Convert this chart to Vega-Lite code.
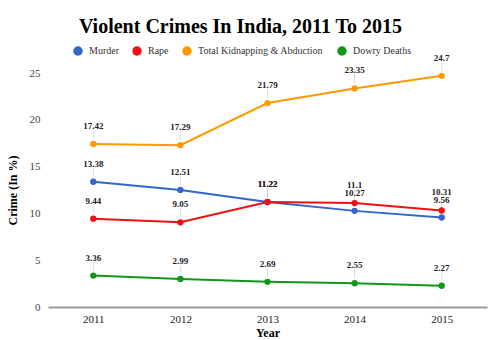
{
  "$schema": "https://vega.github.io/schema/vega-lite/v6.json",
  "autosize": "none",
  "width": 439,
  "height": 234,
  "padding": {"left": 48, "top": 73, "right": 13, "bottom": 33},
  "background": "white",
  "config": {
    "view": {"stroke": null},
    "font": "Liberation Serif"
  },
  "title": {
    "text": "Violent Crimes In India,  2011 To 2015",
    "font": "Liberation Serif",
    "fontSize": 20,
    "fontWeight": "bold",
    "color": "#000000",
    "anchor": "middle",
    "dx": -27,
    "offset": 9
  },
  "data": {
    "values": [
      {"year": "2011", "crime": "Murder", "value": 13.38},
      {"year": "2012", "crime": "Murder", "value": 12.51},
      {"year": "2013", "crime": "Murder", "value": 11.22},
      {"year": "2014", "crime": "Murder", "value": 10.27},
      {"year": "2015", "crime": "Murder", "value": 9.56},
      {"year": "2011", "crime": "Rape", "value": 9.44},
      {"year": "2012", "crime": "Rape", "value": 9.05},
      {"year": "2013", "crime": "Rape", "value": 11.22},
      {"year": "2014", "crime": "Rape", "value": 11.1},
      {"year": "2015", "crime": "Rape", "value": 10.31},
      {"year": "2011", "crime": "Total Kidnapping & Abduction", "value": 17.42},
      {"year": "2012", "crime": "Total Kidnapping & Abduction", "value": 17.29},
      {"year": "2013", "crime": "Total Kidnapping & Abduction", "value": 21.79},
      {"year": "2014", "crime": "Total Kidnapping & Abduction", "value": 23.35},
      {"year": "2015", "crime": "Total Kidnapping & Abduction", "value": 24.7},
      {"year": "2011", "crime": "Dowry Deaths", "value": 3.36},
      {"year": "2012", "crime": "Dowry Deaths", "value": 2.99},
      {"year": "2013", "crime": "Dowry Deaths", "value": 2.69},
      {"year": "2014", "crime": "Dowry Deaths", "value": 2.55},
      {"year": "2015", "crime": "Dowry Deaths", "value": 2.27}
    ]
  },
  "encoding": {
    "x": {
      "field": "year",
      "type": "ordinal",
      "scale": {"type": "point", "padding": 0.52},
      "axis": {
        "title": "Year",
        "titleFont": "Liberation Serif",
        "titleFontSize": 12,
        "titleFontWeight": "bold",
        "titleColor": "#000000",
        "titlePadding": 3,
        "labelAngle": 0,
        "labelFont": "Liberation Serif",
        "labelFontSize": 11,
        "labelColor": "#222222",
        "labelPadding": 6,
        "ticks": false,
        "domainColor": "#999999",
        "domainWidth": 2,
        "grid": false
      }
    },
    "y": {
      "field": "value",
      "type": "quantitative",
      "scale": {"domain": [0, 25]},
      "axis": {
        "title": "Crime (In %)",
        "titleFont": "Liberation Serif",
        "titleFontSize": 12,
        "titleFontWeight": "bold",
        "titleColor": "#000000",
        "titlePadding": 10,
        "values": [0, 5, 10, 15, 20, 25],
        "labelFont": "Liberation Serif",
        "labelFontSize": 11,
        "labelColor": "#444444",
        "labelPadding": 8,
        "ticks": false,
        "domain": false,
        "grid": false
      }
    },
    "color": {
      "field": "crime",
      "type": "nominal",
      "scale": {
        "domain": ["Murder", "Rape", "Total Kidnapping & Abduction", "Dowry Deaths"],
        "range": ["#3366cc", "#ee1111", "#ff9900", "#109618"]
      },
      "legend": {
        "title": null,
        "orient": "none",
        "legendX": 25,
        "legendY": -27,
        "direction": "horizontal",
        "symbolType": "circle",
        "symbolSize": 90,
        "symbolStrokeWidth": 0,
        "labelFont": "Liberation Serif",
        "labelFontSize": 10,
        "labelColor": "#333333",
        "columnPadding": 13,
        "labelOffset": 6
      }
    }
  },
  "layer": [
    {
      "mark": {"type": "point", "shape": "M0,-1L0,1", "filled": false, "size": 81, "yOffset": -9, "stroke": "#cccccc", "strokeWidth": 1},
      "encoding": {"color": {"value": "#cccccc"}}
    },
    {
      "mark": {"type": "line", "strokeWidth": 2}
    },
    {
      "mark": {"type": "point", "filled": true, "size": 40, "opacity": 1}
    },
    {
      "mark": {"type": "text", "baseline": "bottom", "dy": -13, "fontSize": 9, "fontWeight": "bold", "font": "Liberation Serif"},
      "encoding": {
        "text": {"field": "value", "type": "quantitative"},
        "color": {"value": "#222222"}
      }
    }
  ]
}
